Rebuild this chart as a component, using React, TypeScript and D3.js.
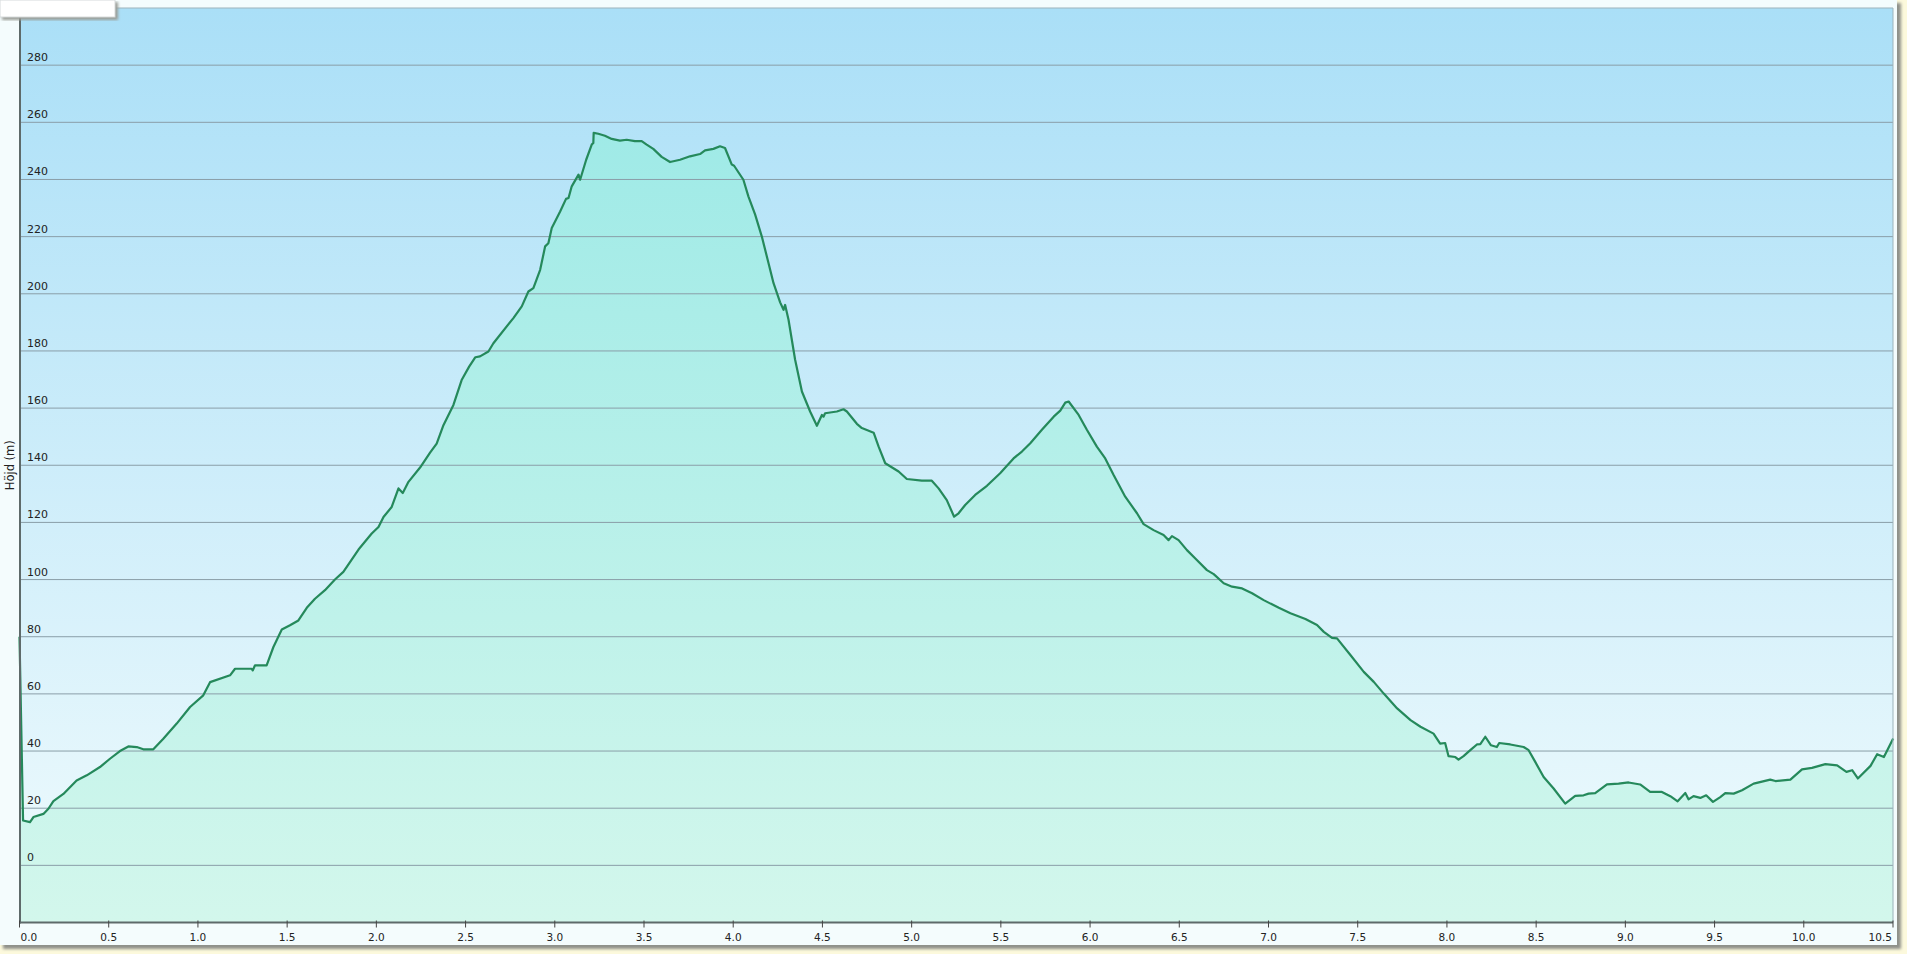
import * as d3 from "d3";
import { useEffect } from "react";

// distance along route (km) and elevation (m)
const dist: number[] = [
  0, 0.02, 0.059, 0.078, 0.134, 0.162, 0.19, 0.246, 0.32, 0.377, 0.451, 0.507, 0.563, 0.61, 0.657, 0.694, 0.75,
  0.806, 0.881, 0.956, 1.03, 1.068, 1.18, 1.208, 1.301, 1.307, 1.32, 1.385, 1.423, 1.47, 1.516, 1.563, 1.61,
  1.656, 1.712, 1.768, 1.815, 1.9, 1.974, 2.012, 2.04, 2.086, 2.124, 2.148, 2.18, 2.245, 2.301, 2.338, 2.376,
  2.432, 2.478, 2.52, 2.555, 2.581, 2.628, 2.656, 2.768, 2.815, 2.852, 2.88, 2.918, 2.946, 2.964, 2.983, 3.03,
  3.063, 3.077, 3.095, 3.133, 3.142, 3.176, 3.207, 3.216, 3.218, 3.244, 3.281, 3.319, 3.365, 3.403, 3.449,
  3.487, 3.515, 3.552, 3.599, 3.646, 3.702, 3.758, 3.814, 3.842, 3.889, 3.926, 3.954, 3.992, 4.005, 4.057,
  4.085, 4.123, 4.16, 4.198, 4.226, 4.263, 4.282, 4.291, 4.31, 4.347, 4.385, 4.431, 4.469, 4.497, 4.506, 4.515,
  4.581, 4.618, 4.637, 4.693, 4.721, 4.787, 4.815, 4.852, 4.927, 4.973, 5.057, 5.113, 5.151, 5.197, 5.238,
  5.263, 5.3, 5.356, 5.422, 5.496, 5.571, 5.618, 5.665, 5.73, 5.796, 5.833, 5.861, 5.88, 5.936, 5.982, 6.038,
  6.085, 6.132, 6.197, 6.263, 6.3, 6.356, 6.412, 6.44, 6.459, 6.496, 6.543, 6.59, 6.655, 6.693, 6.749, 6.796,
  6.852, 6.908, 6.973, 7.058, 7.123, 7.207, 7.272, 7.31, 7.356, 7.384, 7.459, 7.534, 7.59, 7.646, 7.721, 7.796,
  7.852, 7.925, 7.962, 7.99, 8.009, 8.047, 8.065, 8.093, 8.131, 8.168, 8.187, 8.215, 8.247, 8.28, 8.293, 8.355,
  8.43, 8.458, 8.495, 8.542, 8.598, 8.663, 8.719, 8.766, 8.794, 8.831, 8.897, 8.962, 9.018, 9.083, 9.139,
  9.205, 9.252, 9.293, 9.336, 9.354, 9.382, 9.42, 9.453, 9.491, 9.532, 9.56, 9.607, 9.654, 9.719, 9.812, 9.841,
  9.925, 9.99, 10.046, 10.121, 10.187, 10.239, 10.271, 10.303, 10.374, 10.411, 10.449, 10.501,
];
const elev: number[] = [
  80, 15.7, 15.1, 16.9, 18.0, 19.8, 22.5, 25.0, 29.7, 31.5, 34.4, 37.3, 40.0, 41.6, 41.4, 40.6, 40.6,
  44.3, 49.6, 55.4, 59.5, 64.1, 66.5, 68.8, 68.8, 68.2, 70.0, 70.0, 76.4, 82.5, 84.0, 85.7, 90.1,
  93.3, 96.3, 100.0, 102.7, 110.5, 116.1, 118.4, 121.9, 125.4, 131.9, 130.3, 134.2, 139.2, 144.4, 147.6, 154.0,
  161.1, 169.8, 174.5, 177.8, 178.1, 179.8, 182.7, 191.5, 195.6, 200.8, 202.0, 208.4, 216.6, 217.7, 223.0, 228.8,
  233.2, 233.5, 237.6, 241.7, 239.9, 246.9, 252.2, 252.8, 256.3, 256.0, 255.3, 254.2, 253.6, 253.9, 253.4,
  253.4, 252.2, 250.7, 247.9, 246.1, 246.9, 248.1, 248.9, 250.2, 250.7, 251.6, 251.0, 245.2, 244.8, 239.9,
  234.1, 227.7, 220.1, 210.7, 203.7, 197.0, 194.4, 196.1, 190.9, 176.9, 165.8, 158.8, 153.8, 157.6, 157.0, 158.2,
  158.8, 159.6, 158.8, 154.5, 153.0, 151.4, 146.5, 140.7, 137.8, 135.2, 134.6, 134.6, 131.9, 127.8, 122.0,
  123.2, 126.1, 129.6, 132.8, 137.2, 142.4, 144.8, 147.7, 152.4, 157.0, 159.1, 161.9, 162.3, 157.6, 152.4, 146.5,
  142.4, 136.6, 129.0, 123.2, 119.4, 117.3, 115.6, 113.8, 115.2, 113.8, 110.3, 107.4, 103.3, 101.9, 98.7, 97.5,
  96.9, 95.2, 92.8, 90.1, 88.2, 86.2, 84.1, 81.7, 79.6, 79.4, 73.6, 67.7, 64.2, 60.1, 54.9, 50.8,
  48.5, 46.1, 42.6, 42.8, 38.2, 37.9, 37.0, 38.2, 40.3, 42.3, 42.4, 45.0, 42.0, 41.4, 42.8, 42.3,
  41.4, 40.3, 36.2, 30.9, 26.9, 21.6, 24.3, 24.5, 25.1, 25.3, 28.3, 28.6, 29.0, 28.3, 25.7,
  25.7, 24.2, 22.4, 25.3, 23.1, 24.2, 23.6, 24.5, 22.2, 23.9, 25.3, 25.1, 26.3, 28.6, 30.0, 29.5,
  30.0, 33.6, 34.1, 35.4, 35.0, 32.7, 33.3, 30.4, 34.8, 38.9, 37.9, 44.4,
];
const yTicks: number[] = [0, 20, 40, 60, 80, 100, 120, 140, 160, 180, 200, 220, 240, 260, 280];
const xTicks: number[] = [0, 0.5, 1, 1.5, 2, 2.5, 3, 3.5, 4, 4.5, 5, 5.5, 6, 6.5, 7, 7.5, 8, 8.5, 9, 9.5, 10, 10.5];
const yTitle = "Höjd (m)";

const W = 1907;
const H = 954;
const left = 19.5;
const right = 1893;
const top = 8;
const bottom = 922.5;
const font = "'DejaVu Sans', Verdana, sans-serif";

export default function App() {
  useEffect(() => {
    document.body.style.margin = "0";
  }, []);

  const x = d3.scaleLinear([0, 10.5], [left, right]);
  const y = d3.scaleLinear([-20, 300], [bottom, top]);
  const pts = dist.map((d, i) => [d, elev[i]] as [number, number]);

  const area = d3
    .area<[number, number]>()
    .x((d) => x(d[0]))
    .y0(y(-20))
    .y1((d) => y(d[1]));
  const line = d3
    .line<[number, number]>()
    .x((d) => x(d[0]))
    .y((d) => y(d[1]));

  // first label starts at its tick, last one ends at it
  const anchor = (i: number) => (i === 0 ? "start" : i === xTicks.length - 1 ? "end" : "middle");

  return (
    <svg width={W} height={H} style={{ display: "block" }}>
      <defs>
        <linearGradient id="bg" x1="0" y1={top} x2="0" y2={bottom} gradientUnits="userSpaceOnUse">
          <stop offset="0" stopColor="#aadff7" />
          <stop offset="1" stopColor="#f0fbfd" />
        </linearGradient>
        <linearGradient id="fill" x1="0" y1={top} x2="0" y2={bottom} gradientUnits="userSpaceOnUse">
          <stop offset="0" stopColor="#97e8e6" />
          <stop offset="1" stopColor="#d3f7ec" />
        </linearGradient>
        <filter id="shadow" x="-5%" y="-5%" width="110%" height="110%">
          <feGaussianBlur stdDeviation="1.5" />
        </filter>
      </defs>

      <rect x={0} y={0} width={W} height={H} fill="#fcf9dc" />
      <rect x={3} y={3} width={1898} height={946} fill="#8f918a" filter="url(#shadow)" />
      <rect x={0} y={0} width={1897} height={945} fill="#f4fcfd" />

      <rect x={left} y={top} width={right - left} height={bottom - top} fill="url(#bg)" />
      <path d={area(pts) ?? ""} fill="url(#fill)" />

      {yTicks.map((t) => (
        <line key={t} x1={left} x2={right} y1={y(t)} y2={y(t)} stroke="#8a9ea8" strokeWidth={1} />
      ))}

      <path d={line(pts) ?? ""} fill="none" stroke="#25895b" strokeWidth={2.2} strokeLinejoin="round" />

      {yTicks.map((t) => (
        <text key={"l" + t} x={27} y={y(t) - 4} fontFamily={font} fontSize={11} fill="#222">
          {t}
        </text>
      ))}

      <line x1={left} x2={right} y1={top} y2={top} stroke="#9db3bb" strokeWidth={1} />
      <line x1={right} x2={right} y1={top} y2={bottom} stroke="#9db3bb" strokeWidth={1} />
      <line x1={20} x2={20} y1={top} y2={bottom + 1} stroke="#5e6a6a" strokeWidth={2} />
      <line x1={19} x2={right} y1={bottom} y2={bottom} stroke="#5e6a6a" strokeWidth={2} />

      {xTicks.map((t, i) => (
        <g key={"x" + t} transform={`translate(${x(t)},0)`}>
          <line y1={bottom - 2} y2={bottom + 5} stroke="#444" strokeWidth={1} />
          <text
            x={i === 0 ? 1 : i === xTicks.length - 1 ? -1 : 0}
            y={941}
            textAnchor={anchor(i)}
            fontFamily={font}
            fontSize={10.5}
            fill="#222"
          >
            {t.toFixed(1)}
          </text>
        </g>
      ))}

      <text
        transform={`translate(14,${(top + bottom) / 2}) rotate(-90)`}
        textAnchor="middle"
        fontFamily={font}
        fontSize={11.5}
        fill="#222"
      >
        {yTitle}
      </text>

      <rect x={2} y={2} width={116} height={18} fill="#9a9c96" filter="url(#shadow)" />
      <rect x={0} y={0} width={115} height={17} fill="#ffffff" stroke="#d6dadb" strokeWidth={1} />
    </svg>
  );
}
